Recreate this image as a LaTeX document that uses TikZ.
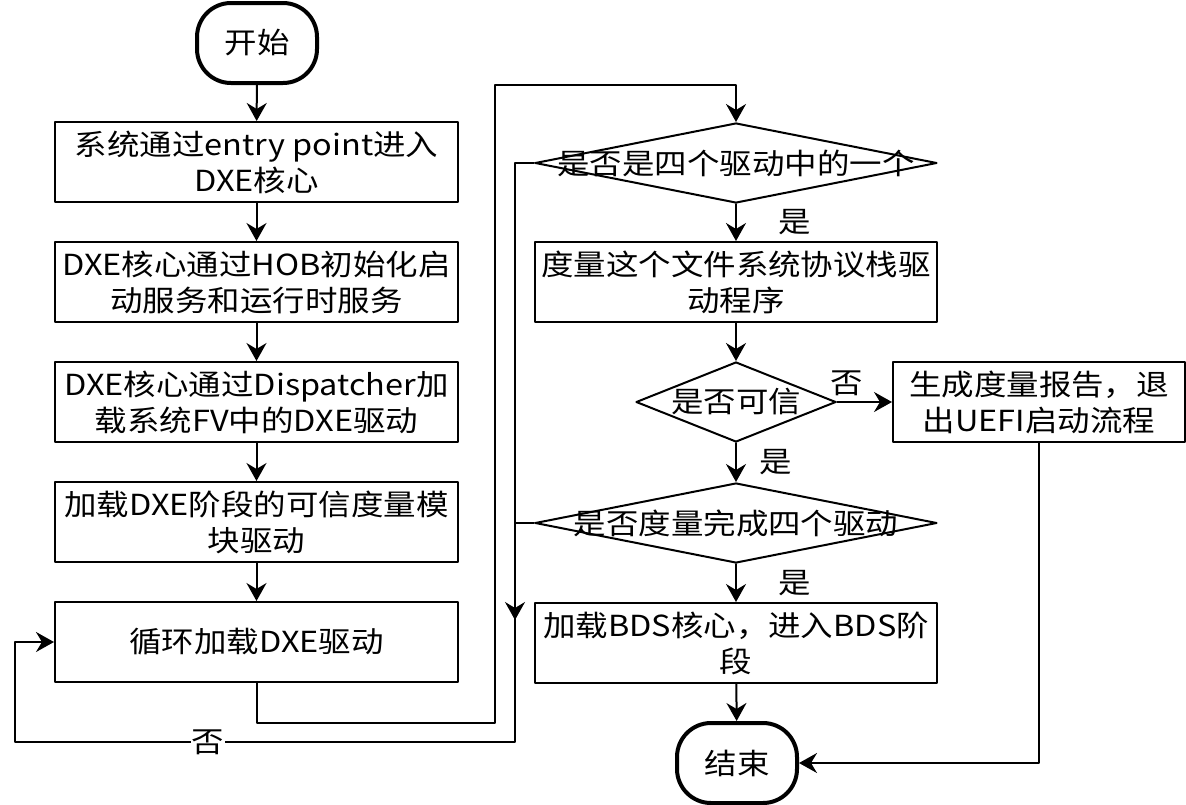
\documentclass[tikz,border=0pt]{standalone}
\usepackage{fontspec}
\setmainfont{Noto Sans CJK SC}[FakeStretch=1.12]
\usetikzlibrary{arrows.meta,shapes.geometric}

\begin{document}
\begin{tikzpicture}[line cap=round,line join=round,x=1pt,y=-1pt,
  every node/.style={font=\fontsize{29}{36}\selectfont},
  proc/.style={draw,line width=2pt,minimum width=403pt,minimum height=80pt,align=center,inner sep=0pt},
  term/.style={draw,line width=4pt,rounded corners=34pt,minimum width=120pt,minimum height=80pt},
  dia/.style={draw,diamond,line width=2pt,inner sep=0pt},
  >={Stealth[length=18pt,width=20pt,inset=6pt]},
  flow/.style={line width=2pt,->}]
\useasboundingbox (0,0) rectangle (1186,804);
\node[term] (start) at (257,43) {开始};
\node[proc] (sys) at (256.5,162) {系统通过entry point进入\\DXE核心};
\node[proc] (hob) at (256.5,282) {DXE核心通过HOB初始化启\\动服务和运行时服务};
\node[proc] (disp) at (256.5,402) {DXE核心通过Dispatcher加\\载系统FV中的DXE驱动};
\node[proc] (tcm) at (256.5,522) {加载DXE阶段的可信度量模\\块驱动};
\node[proc] (loop) at (256.5,642) {循环加载DXE驱动};
\node[dia,minimum width=402pt,minimum height=80pt] (isfour) at (736,163) {};
\node (isfourtext) at (isfour) {是否是四个驱动中的一个};
\node[proc,minimum width=402pt] (meas) at (736,282) {度量这个文件系统协议栈驱\\动程序};
\node[dia,minimum width=200pt,minimum height=80pt] (trust) at (736,402) {};
\node (trusttext) at (trust) {是否可信};
\node[proc,minimum width=292pt] (report) at (1039,402) {生成度量报告，退\\出UEFI启动流程};
\node[dia,minimum width=402pt,minimum height=80pt] (done) at (736,523) {};
\node (donetext) at (done) {是否度量完成四个驱动};
\node[proc,minimum width=402pt] (bds) at (736,643) {加载BDS核心，进入BDS阶\\段};
\node[term] (end) at (737,763) {结束};
\coordinate (up) at (495,85);
\coordinate (nojoin) at (515,620);
\coordinate (turn) at (515,742);
\coordinate (back) at (15,742);
\draw[flow] (start) -- (sys);
\draw[flow] (sys) -- (hob);
\draw[flow] (hob) -- (disp);
\draw[flow] (disp) -- (tcm);
\draw[flow] (tcm) -- (loop);
\draw[flow] (loop.south) -- ++(0,40) -| (up) -| (isfour.north);
\draw[flow] (isfour.west) -| (nojoin);
\draw[flow] (done.west) -| (turn) -- node[pos=0.614,fill=white,inner sep=1pt]{否} (back) |- (loop.west);
\draw[flow] (isfour.south) -- node[midway,xshift=59pt]{是} (meas.north);
\draw[flow] (meas) -- (trust);
\draw[flow] (trust.east) -- node[pos=0.17,yshift=19pt]{否} (report.west);
\draw[flow] (trust.south) -- node[midway,xshift=40pt]{是} (done.north);
\draw[flow] (done.south) -- node[midway,xshift=59pt]{是} (bds.north);
\draw[flow] (bds) -- (end);
\draw[flow] (report.south) |- (end.east);
\end{tikzpicture}
\end{document}
